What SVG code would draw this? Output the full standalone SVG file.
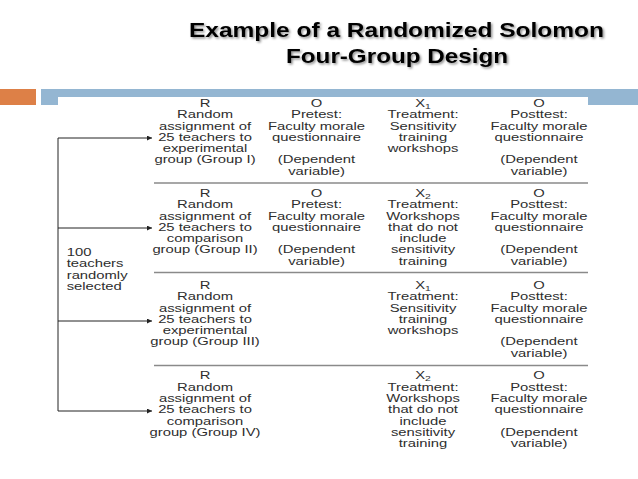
<svg xmlns="http://www.w3.org/2000/svg" width="638" height="479" viewBox="0 0 638 479">
<style>
.t{font-family:"Liberation Sans",Arial,sans-serif;font-size:10px;fill:#2e2e2e;text-anchor:middle}
.l{font-family:"Liberation Sans",Arial,sans-serif;font-size:10px;fill:#2e2e2e;text-anchor:start}
.h{font-family:"Liberation Sans",Arial,sans-serif;font-size:21px;font-weight:bold;fill:#000;text-anchor:middle}
.sub{font-size:7px}
.rule{stroke:#8a8a8a;stroke-width:1.5}
.conn{stroke:#222;stroke-width:1;fill:none}
</style>
<defs>
<filter id="sh" x="-5%" y="-20%" width="110%" height="150%">
<feDropShadow dx="1.5" dy="1.5" stdDeviation="1" flood-color="#000" flood-opacity="0.45"/>
</filter>
<marker id="ah" viewBox="0 0 10 10" refX="10" refY="5" markerWidth="7" markerHeight="5" markerUnits="userSpaceOnUse" orient="auto">
<path d="M0,0 L10,5 L0,10 z" fill="#222"/>
</marker>
</defs>
<rect width="638" height="479" fill="#fff"/>
<g id="title" filter="url(#sh)">
<text class="h" x="396.5" y="37" textLength="415" lengthAdjust="spacingAndGlyphs">Example of a Randomized Solomon</text>
<text class="h" x="397" y="63" textLength="222" lengthAdjust="spacingAndGlyphs">Four-Group Design</text>
</g>
<g id="header-bar">
<rect x="0" y="89" width="36" height="16" fill="#dd8047"/>
<rect x="41" y="89" width="597" height="16" fill="#94b6d2"/>
<rect x="58" y="97" width="530" height="8" fill="#fff"/>
</g>
<g id="rules">
<line class="rule" x1="154" y1="183" x2="588" y2="183"/>
<line class="rule" x1="154" y1="272.5" x2="588" y2="272.5"/>
<line class="rule" x1="154" y1="365.5" x2="588" y2="365.5"/>
</g>
<g id="connectors">
<polyline class="conn" points="58,138 58,411"/>
<line class="conn" x1="58" y1="138" x2="152" y2="138" marker-end="url(#ah)"/>
<line class="conn" x1="58" y1="228" x2="152" y2="228" marker-end="url(#ah)"/>
<line class="conn" x1="58" y1="321" x2="152" y2="321" marker-end="url(#ah)"/>
<line class="conn" x1="58" y1="411" x2="152" y2="411" marker-end="url(#ah)"/>
</g>
<g id="source" transform="translate(66.7,0) scale(1.48,1)">
<text class="l" x="0" y="256">100</text>
<text class="l" x="0" y="267.5">teachers</text>
<text class="l" x="0" y="279">randomly</text>
<text class="l" x="0" y="290.5">selected</text>
</g>
<g id="group1">
<g transform="translate(205,0) scale(1.48,1)">
<text class="t" x="0" y="107">R</text>
<text class="t" x="0" y="118.3">Random</text>
<text class="t" x="0" y="129.6">assignment of</text>
<text class="t" x="0" y="140.9">25 teachers to</text>
<text class="t" x="0" y="152.2">experimental</text>
<text class="t" x="0" y="163.5">group (Group I)</text>
</g>
<g transform="translate(316.5,0) scale(1.48,1)">
<text class="t" x="0" y="107">O</text>
<text class="t" x="0" y="118.3">Pretest:</text>
<text class="t" x="0" y="129.6">Faculty morale</text>
<text class="t" x="0" y="140.9">questionnaire</text>
<text class="t" x="0" y="163.5">(Dependent</text>
<text class="t" x="0" y="174.8">variable)</text>
</g>
<g transform="translate(423,0) scale(1.48,1)">
<text class="t" x="0" y="107">X<tspan class="sub" dy="2">1</tspan></text>
<text class="t" x="0" y="118.3">Treatment:</text>
<text class="t" x="0" y="129.6">Sensitivity</text>
<text class="t" x="0" y="140.9">training</text>
<text class="t" x="0" y="152.2">workshops</text>
</g>
<g transform="translate(539,0) scale(1.48,1)">
<text class="t" x="0" y="107">O</text>
<text class="t" x="0" y="118.3">Posttest:</text>
<text class="t" x="0" y="129.6">Faculty morale</text>
<text class="t" x="0" y="140.9">questionnaire</text>
<text class="t" x="0" y="163.5">(Dependent</text>
<text class="t" x="0" y="174.8">variable)</text>
</g>
</g>
<g id="group2">
<g transform="translate(205,0) scale(1.48,1)">
<text class="t" x="0" y="197">R</text>
<text class="t" x="0" y="208.3">Random</text>
<text class="t" x="0" y="219.6">assignment of</text>
<text class="t" x="0" y="230.9">25 teachers to</text>
<text class="t" x="0" y="242.2">comparison</text>
<text class="t" x="0" y="253.5">group (Group II)</text>
</g>
<g transform="translate(316.5,0) scale(1.48,1)">
<text class="t" x="0" y="197">O</text>
<text class="t" x="0" y="208.3">Pretest:</text>
<text class="t" x="0" y="219.6">Faculty morale</text>
<text class="t" x="0" y="230.9">questionnaire</text>
<text class="t" x="0" y="253.5">(Dependent</text>
<text class="t" x="0" y="264.8">variable)</text>
</g>
<g transform="translate(423,0) scale(1.48,1)">
<text class="t" x="0" y="197">X<tspan class="sub" dy="2">2</tspan></text>
<text class="t" x="0" y="208.3">Treatment:</text>
<text class="t" x="0" y="219.6">Workshops</text>
<text class="t" x="0" y="230.9">that do not</text>
<text class="t" x="0" y="242.2">include</text>
<text class="t" x="0" y="253.5">sensitivity</text>
<text class="t" x="0" y="264.8">training</text>
</g>
<g transform="translate(539,0) scale(1.48,1)">
<text class="t" x="0" y="197">O</text>
<text class="t" x="0" y="208.3">Posttest:</text>
<text class="t" x="0" y="219.6">Faculty morale</text>
<text class="t" x="0" y="230.9">questionnaire</text>
<text class="t" x="0" y="253.5">(Dependent</text>
<text class="t" x="0" y="264.8">variable)</text>
</g>
</g>
<g id="group3">
<g transform="translate(205,0) scale(1.48,1)">
<text class="t" x="0" y="289">R</text>
<text class="t" x="0" y="300.3">Random</text>
<text class="t" x="0" y="311.6">assignment of</text>
<text class="t" x="0" y="322.9">25 teachers to</text>
<text class="t" x="0" y="334.2">experimental</text>
<text class="t" x="0" y="345.5">group (Group III)</text>
</g>
<g transform="translate(423,0) scale(1.48,1)">
<text class="t" x="0" y="289">X<tspan class="sub" dy="2">1</tspan></text>
<text class="t" x="0" y="300.3">Treatment:</text>
<text class="t" x="0" y="311.6">Sensitivity</text>
<text class="t" x="0" y="322.9">training</text>
<text class="t" x="0" y="334.2">workshops</text>
</g>
<g transform="translate(539,0) scale(1.48,1)">
<text class="t" x="0" y="289">O</text>
<text class="t" x="0" y="300.3">Posttest:</text>
<text class="t" x="0" y="311.6">Faculty morale</text>
<text class="t" x="0" y="322.9">questionnaire</text>
<text class="t" x="0" y="345.5">(Dependent</text>
<text class="t" x="0" y="356.8">variable)</text>
</g>
</g>
<g id="group4">
<g transform="translate(205,0) scale(1.48,1)">
<text class="t" x="0" y="379.5">R</text>
<text class="t" x="0" y="390.8">Random</text>
<text class="t" x="0" y="402.1">assignment of</text>
<text class="t" x="0" y="413.4">25 teachers to</text>
<text class="t" x="0" y="424.7">comparison</text>
<text class="t" x="0" y="436">group (Group IV)</text>
</g>
<g transform="translate(423,0) scale(1.48,1)">
<text class="t" x="0" y="379.5">X<tspan class="sub" dy="2">2</tspan></text>
<text class="t" x="0" y="390.8">Treatment:</text>
<text class="t" x="0" y="402.1">Workshops</text>
<text class="t" x="0" y="413.4">that do not</text>
<text class="t" x="0" y="424.7">include</text>
<text class="t" x="0" y="436">sensitivity</text>
<text class="t" x="0" y="447.3">training</text>
</g>
<g transform="translate(539,0) scale(1.48,1)">
<text class="t" x="0" y="379.5">O</text>
<text class="t" x="0" y="390.8">Posttest:</text>
<text class="t" x="0" y="402.1">Faculty morale</text>
<text class="t" x="0" y="413.4">questionnaire</text>
<text class="t" x="0" y="436">(Dependent</text>
<text class="t" x="0" y="447.3">variable)</text>
</g>
</g>
</svg>
